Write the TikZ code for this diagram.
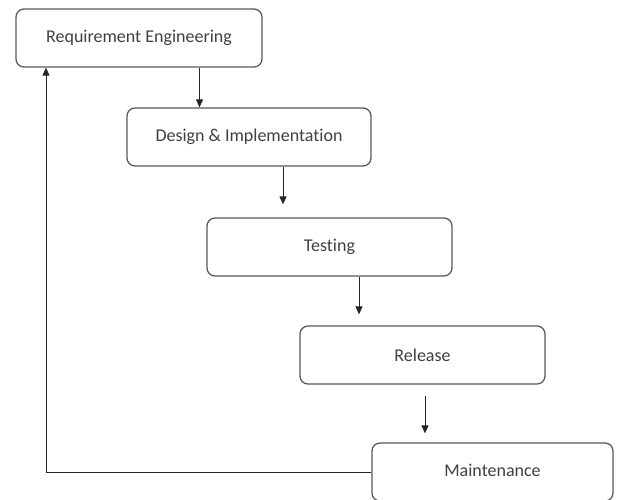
\documentclass[tikz,border=0pt]{standalone}
\usepackage{fontspec}
\setmainfont[Ligatures=NoCommon]{Carlito}
\usetikzlibrary{arrows.meta}
\definecolor{edge}{HTML}{5A5A5A}
\definecolor{txt}{HTML}{404040}
\tikzset{
  stagebox/.style={draw=edge, line width=1.3pt, rounded corners=8pt, inner sep=0pt,
    minimum height=58pt, text=txt, font=\fontsize{18}{20}\selectfont},
  flow/.style={draw=black!85, line width=1pt, -{Triangle[width=7pt,length=8pt]}}
}
\begin{document}
\begin{tikzpicture}[x=1pt,y=-1pt]
\useasboundingbox (0,0) rectangle (617,499);
\clip (0,0) rectangle (617,499);
\fill[white] (0,0) rectangle (617,499);
\node[stagebox, minimum width=246pt] (re) at (139,38) {Requirement Engineering};
\node[stagebox, minimum width=244pt] (di) at (249,137) {Design \& Implementation};
\node[stagebox, minimum width=245pt] (te) at (329.5,247) {Testing};
\node[stagebox, minimum width=245pt] (rl) at (422.5,355) {Release};
\node[stagebox, minimum width=241pt] (mt) at (492.5,472) {\raisebox{4pt}{Maintenance}};
\coordinate (corner) at (46,472);
\draw[flow] (re.south -| 199.5,0) -- (di.north -| 199.5,0);
\draw[flow, shorten >=13pt] (di.south -| 283,0) -- (te.north -| 283,0);
\draw[flow, shorten >=11pt] (te.south -| 359,0) -- (rl.north -| 359,0);
\draw[flow, shorten <=11pt, shorten >=9pt] (rl.south -| 425,0) -- (mt.north -| 425,0);
\draw[flow] (mt.west) -- (corner) -- (re.south -| corner);
\end{tikzpicture}
\end{document}
